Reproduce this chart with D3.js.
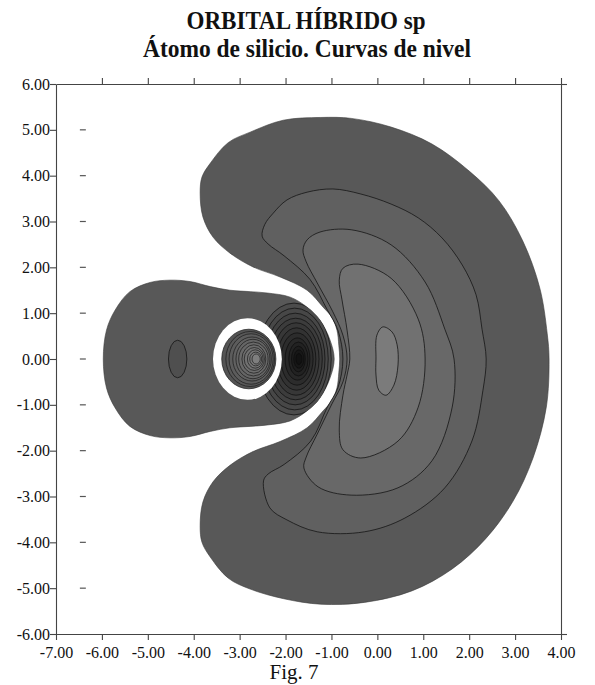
<!DOCTYPE html>
<html>
<head>
<meta charset="utf-8">
<script src="https://cdn.jsdelivr.net/npm/d3@7"></script>
<style>
  body { margin: 0; background: #fff; }
  text { font-family: "Liberation Serif", "Times New Roman", serif; fill: #111; }
</style>
</head>
<body>
<script>
// tick values
var xTicks = [-7, -6, -5, -4, -3, -2, -1, 0, 1, 2, 3, 4];
var yTicks = [6, 5, 4, 3, 2, 1, 0, -1, -2, -3, -4, -5, -6];
var dashTicks = [5, 4, 3, 2, 1, 0, -1, -2, -3, -4, -5];

// outer contour of the large lobe
var bigLobe = [
  [-0.82, 0], [-0.84, 0.30], [-0.88, 0.63], [-1.00, 0.92], [-1.18, 1.13], [-1.53, 1.50],
  [-2.12, 1.79], [-2.71, 2.01], [-3.21, 2.31], [-3.58, 2.66], [-3.80, 3.10], [-3.86, 3.62],
  [-3.82, 3.97], [-3.64, 4.27], [-3.25, 4.72], [-2.77, 4.95], [-2.05, 5.21], [-1.23, 5.27],
  [-0.57, 5.25], [0.30, 5.06], [1.19, 4.69], [2.00, 4.10], [2.65, 3.45], [3.17, 2.57],
  [3.54, 1.54], [3.70, 0.55], [3.74, 0], [3.68, -1.05], [3.39, -2.16], [2.95, -3.11],
  [2.36, -3.92], [1.63, -4.58], [0.75, -5.06], [-0.28, -5.31], [-1.23, -5.35], [-2.04, -5.23],
  [-2.77, -5.02], [-3.25, -4.78], [-3.64, -4.32], [-3.82, -4.00], [-3.86, -3.64], [-3.80, -3.12],
  [-3.58, -2.68], [-3.21, -2.32], [-2.71, -2.02], [-2.12, -1.80], [-1.53, -1.50], [-1.18, -1.13],
  [-1.00, -0.92], [-0.88, -0.63], [-0.84, -0.30]
];

// inner level curves of the large lobe, outer to inner
var c1 = [
  [-0.75, 0], [-0.86, 0.63], [-1.10, 1.09], [-1.47, 1.74], [-2.03, 2.25], [-2.38, 2.51],
  [-2.51, 2.68], [-2.45, 2.94], [-2.27, 3.18], [-1.97, 3.47], [-1.53, 3.64], [-0.97, 3.71],
  [-0.36, 3.60], [0.30, 3.38], [0.89, 3.08], [1.41, 2.64], [1.85, 2.05], [2.15, 1.40],
  [2.28, 0.65], [2.37, 0], [2.30, -0.68], [2.06, -1.79], [1.47, -2.81], [0.60, -3.47],
  [-0.28, -3.77], [-1.31, -3.77], [-1.97, -3.51], [-2.34, -3.25], [-2.48, -2.66], [-2.38, -2.51],
  [-2.03, -2.30], [-1.45, -1.79], [-1.09, -1.05], [-0.86, -0.63]
];
var c2 = [
  [-0.66, 0], [-0.75, 0.52], [-0.97, 1.03], [-1.31, 1.66], [-1.55, 2.12], [-1.62, 2.38],
  [-1.53, 2.60], [-1.25, 2.77], [-0.57, 2.82], [0.30, 2.49], [1.04, 1.68], [1.47, 0.65],
  [1.67, 0], [1.63, -1.05], [1.19, -2.22], [0.45, -2.81], [-0.57, -2.97], [-1.29, -2.79],
  [-1.60, -2.38], [-1.55, -2.14], [-1.31, -1.64], [-0.99, -0.98], [-0.75, -0.50]
];
var c3 = [
  [-0.60, 0], [-0.66, 0.63], [-0.77, 1.29], [-0.83, 1.72], [-0.75, 1.98], [-0.42, 2.07],
  [0.30, 1.76], [0.89, 0.87], [1.04, 0], [0.89, -1.05], [0.45, -1.79], [-0.36, -2.16],
  [-0.75, -1.98], [-0.83, -1.55], [-0.75, -0.79], [-0.66, -0.35]
];
var c4 = [
  [-0.03, 0], [-0.01, 0.52], [0.12, 0.70], [0.32, 0.59], [0.43, 0.31], [0.45, -0.13],
  [0.36, -0.57], [0.19, -0.79], [0.03, -0.68], [-0.03, -0.35]
];
var bigLevels = [c1, c2, c3, c4];

// outer contour of the small lobe
var smallLobe = [
  [-5.97, 0], [-5.90, 0.63], [-5.71, 1.07], [-5.39, 1.47], [-4.95, 1.67], [-4.52, 1.72],
  [-4.08, 1.69], [-3.64, 1.58], [-3.21, 1.50], [-2.77, 1.47], [-2.40, 1.44], [-1.90, 1.35],
  [-1.53, 1.13], [-1.25, 0.85], [-1.03, 0.41], [-0.94, 0], [-1.03, -0.41], [-1.25, -0.85],
  [-1.53, -1.13], [-1.90, -1.35], [-2.40, -1.44], [-2.77, -1.47], [-3.21, -1.50], [-3.64, -1.58],
  [-4.08, -1.69], [-4.52, -1.72], [-4.95, -1.67], [-5.39, -1.47], [-5.71, -1.07], [-5.90, -0.63]
];
// closed curve inside the small lobe: centre x, half width, half height
var smallCore = [-4.35, 0.20, 0.41];

// dense curves next to the nucleus, outer to inner
var darkCx = [-1.815, -1.80, -1.79, -1.78, -1.77, -1.76, -1.75, -1.74, -1.72, -1.72, -1.71, -1.71];
var darkRx = [0.81, 0.73, 0.65, 0.58, 0.50, 0.42, 0.35, 0.27, 0.21, 0.15, 0.11, 0.065];
var darkRy = [1.22, 1.11, 1.00, 0.89, 0.79, 0.68, 0.57, 0.46, 0.37, 0.28, 0.20, 0.12];

// nodal ring around the inner lobe
var ring = [-2.83, 0.75, 0.89];

// inner lobe curves, outer to inner
var innerCx = [-2.80, -2.77, -2.75, -2.73, -2.71, -2.70, -2.69, -2.68, -2.66, -2.65, -2.64];
var innerRx = [0.59, 0.53, 0.48, 0.42, 0.37, 0.32, 0.26, 0.22, 0.17, 0.13, 0.09];
var innerRy = [0.65, 0.60, 0.55, 0.48, 0.43, 0.37, 0.31, 0.25, 0.20, 0.15, 0.11];

var bandColors = ['#585858', '#606060', '#686868', '#717171', '#7b7b7b'];

var width = 595, height = 685;
var svg = d3.select('body').append('svg')
  .attr('width', width)
  .attr('height', height);

var x = d3.scaleLinear().domain([-7, 4]).range([56, 561]);
var y = d3.scaleLinear().domain([-6, 6]).range([634, 84]);

var line = d3.line()
  .x(d => x(d[0]))
  .y(d => y(d[1]))
  .curve(d3.curveCatmullRomClosed.alpha(0.5));

var plot = svg.append('g').attr('id', 'contours');

// large lobe
plot.append('path')
  .attr('d', line(bigLobe))
  .attr('fill', bandColors[0])
  .attr('stroke', '#3a3a3a')
  .attr('stroke-width', 0.6);

plot.selectAll('path.level')
  .data(bigLevels)
  .enter()
  .append('path')
  .attr('class', 'level')
  .attr('d', line)
  .attr('fill', (d, i) => bandColors[i + 1])
  .attr('stroke', '#151515')
  .attr('stroke-width', 0.8);

// small lobe
svg.append('clipPath')
  .attr('id', 'small-lobe')
  .append('path')
  .attr('d', line(smallLobe));

plot.append('path')
  .attr('d', line(smallLobe))
  .attr('fill', bandColors[0])
  .attr('stroke', '#3a3a3a')
  .attr('stroke-width', 0.6);

function ellipse(sel, cx, rx, ry) {
  return sel
    .attr('cx', x(cx))
    .attr('cy', y(0))
    .attr('rx', x(cx + rx) - x(cx))
    .attr('ry', y(0) - y(ry));
}

ellipse(plot.append('ellipse'), smallCore[0], smallCore[1], smallCore[2])
  .attr('fill', '#4f4f4f')
  .attr('stroke', '#151515')
  .attr('stroke-width', 0.8);

var darkColor = d3.scaleLinear().domain([0, darkCx.length - 1]).range(['#4c4c4c', '#121212']);

plot.append('g')
  .attr('clip-path', 'url(#small-lobe)')
  .selectAll('ellipse')
  .data(darkCx)
  .enter()
  .append('ellipse')
  .each(function(d, i) { ellipse(d3.select(this), d, darkRx[i], darkRy[i]); })
  .attr('fill', (d, i) => darkColor(i))
  .attr('stroke', '#0d0d0d')
  .attr('stroke-width', 0.7);

ellipse(plot.append('ellipse'), ring[0], ring[1], ring[2])
  .attr('fill', '#fff');

var innerColor = d3.scaleLinear().domain([0, innerCx.length - 1]).range(['#545454', '#7e7e7e']);

plot.append('g')
  .selectAll('ellipse')
  .data(innerCx)
  .enter()
  .append('ellipse')
  .each(function(d, i) { ellipse(d3.select(this), d, innerRx[i], innerRy[i]); })
  .attr('fill', (d, i) => innerColor(i))
  .attr('stroke', '#1a1a1a')
  .attr('stroke-width', 0.7);

// axes
var fmt = d => d.toFixed(2);

var xAxis = d3.axisBottom(x).tickValues(xTicks).tickFormat(fmt).tickSize(6).tickSizeOuter(0);
var yAxis = d3.axisLeft(y).tickValues(yTicks).tickFormat(fmt).tickSize(6).tickSizeOuter(0);
var topAxis = d3.axisTop(x).tickValues(xTicks.slice(1)).tickFormat('').tickSize(6).tickSizeOuter(0);
var rightAxis = d3.axisRight(y).tickValues([6, -6]).tickFormat('').tickSize(6).tickSizeOuter(0);

svg.append('g')
  .attr('class', 'x axis')
  .attr('transform', `translate(0, ${y(-6)})`)
  .call(xAxis);

svg.append('g')
  .attr('class', 'y axis')
  .attr('transform', `translate(${x(-7)}, 0)`)
  .call(yAxis);

svg.append('g')
  .attr('class', 'top axis')
  .attr('transform', `translate(0, ${y(6)})`)
  .call(topAxis);

svg.append('g')
  .attr('class', 'right axis')
  .attr('transform', `translate(${x(4)}, 0)`)
  .call(rightAxis);

svg.selectAll('.axis path, .axis line')
  .attr('stroke', '#444')
  .attr('stroke-width', 1.1);

svg.selectAll('.axis text')
  .style('font-family', '"Liberation Serif", serif')
  .style('font-size', '16px')
  .attr('fill', '#222');

svg.selectAll('.x.axis text').attr('dy', '0.95em');
svg.selectAll('.y.axis text').attr('x', -6);

// short marks inside the left edge
svg.append('g')
  .selectAll('line')
  .data(dashTicks)
  .enter()
  .append('line')
  .attr('x1', x(-6.48))
  .attr('x2', x(-6.35))
  .attr('y1', d => y(d))
  .attr('y2', d => y(d))
  .attr('stroke', '#555')
  .attr('stroke-width', 1.2);

// titles
svg.append('text')
  .attr('x', 306)
  .attr('y', 29)
  .attr('text-anchor', 'middle')
  .attr('font-weight', 'bold')
  .attr('font-size', 25)
  .attr('textLength', 239)
  .attr('lengthAdjust', 'spacingAndGlyphs')
  .text('ORBITAL HÍBRIDO sp');

svg.append('text')
  .attr('x', 307)
  .attr('y', 57)
  .attr('text-anchor', 'middle')
  .attr('font-weight', 'bold')
  .attr('font-size', 26)
  .attr('textLength', 328)
  .attr('lengthAdjust', 'spacingAndGlyphs')
  .text('Átomo de silicio. Curvas de nivel');

svg.append('text')
  .attr('x', 294)
  .attr('y', 679)
  .attr('text-anchor', 'middle')
  .attr('font-size', 21)
  .text('Fig. 7');
</script>
</body>
</html>
